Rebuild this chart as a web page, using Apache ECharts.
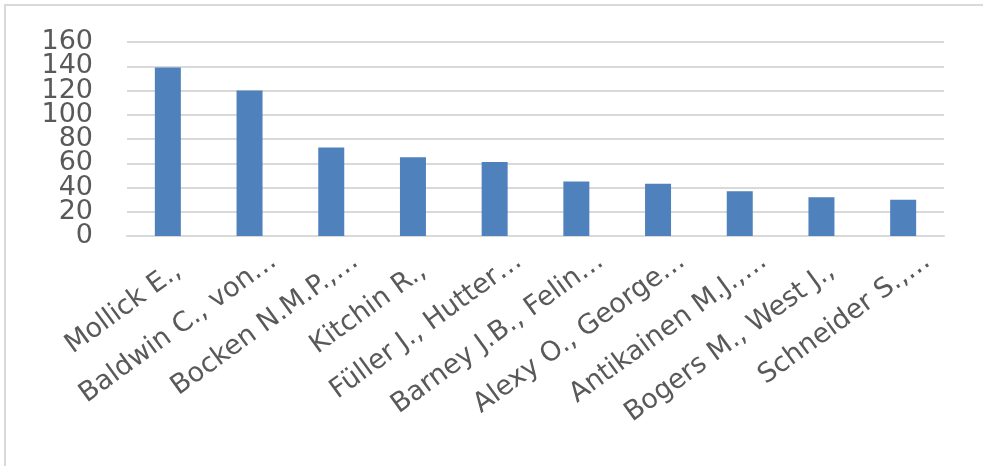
<!DOCTYPE html>
<html>
<head>
<meta charset="utf-8">
<script src="https://cdn.jsdelivr.net/npm/echarts@6/dist/echarts.min.js"></script>
<style>
  html, body { margin: 0; padding: 0; background: #ffffff; }
  #chart { width: 983px; height: 466px; }
</style>
</head>
<body>
<div id="chart"></div>
<script>
// Authors (truncated as shown on the axis) and their counts
const authors = [
  'Mollick E.,  ',
  'Baldwin C., von…',
  'Bocken N.M.P.,…',
  'Kitchin R.,  ',
  'Füller J., Hutter…',
  'Barney J.B., Felin…',
  'Alexy O., George…',
  'Antikainen M.J.,…',
  'Bogers M., West J.,  ',
  'Schneider S.,…'
];
const counts = [139, 120, 73, 65, 61, 45, 43, 37, 32, 30];
const yTicks = [0, 20, 40, 60, 80, 100, 120, 140, 160];

const textColor = '#595959';
const gridColor = '#d9d9d9';
const font = 'DejaVu Sans';
const yMin = yTicks[0];
const yMax = yTicks[yTicks.length - 1];

const yLabelStyle = {
  margin: 34,
  color: textColor,
  fontFamily: font,
  fontSize: 27
};

const chart = echarts.init(document.getElementById('chart'), null, { renderer: 'canvas' });
chart.setOption({
  animation: false,
  backgroundColor: '#ffffff',
  graphic: [{
    type: 'rect',
    shape: { x: 5, y: 5, width: 1100, height: 600 },
    style: { fill: 'none', stroke: gridColor, lineWidth: 2 },
    silent: true
  }],
  grid: { left: 127, right: 39, top: 42, bottom: 230 },
  xAxis: {
    type: 'category',
    data: authors,
    axisLine: { show: true, lineStyle: { color: gridColor, width: 2 } },
    axisTick: { show: false },
    axisLabel: {
      interval: 0,
      rotate: 36,
      margin: 40,
      padding: [0, -30, 0, 0],
      color: textColor,
      fontFamily: font,
      fontSize: 27
    }
  },
  yAxis: [
    {
      // inner ticks 20..140 with grid lines
      type: 'value',
      position: 'left',
      min: yMin,
      max: yMax,
      interval: yTicks[1] - yTicks[0],
      axisLine: { show: false },
      axisTick: { show: false },
      splitLine: { lineStyle: { color: gridColor, width: 2 } },
      axisLabel: Object.assign({ showMinLabel: false, showMaxLabel: false }, yLabelStyle)
    },
    {
      // end ticks 0 and 160
      type: 'value',
      position: 'left',
      min: yMin,
      max: yMax,
      interval: yMax - yMin,
      axisLine: { show: false },
      axisTick: { show: false },
      splitLine: { show: false },
      axisLabel: yLabelStyle
    }
  ],
  series: [{
    type: 'bar',
    data: counts,
    barWidth: 26,
    yAxisIndex: 0,
    itemStyle: { color: '#4f81bd' }
  }]
});
</script>
</body>
</html>
